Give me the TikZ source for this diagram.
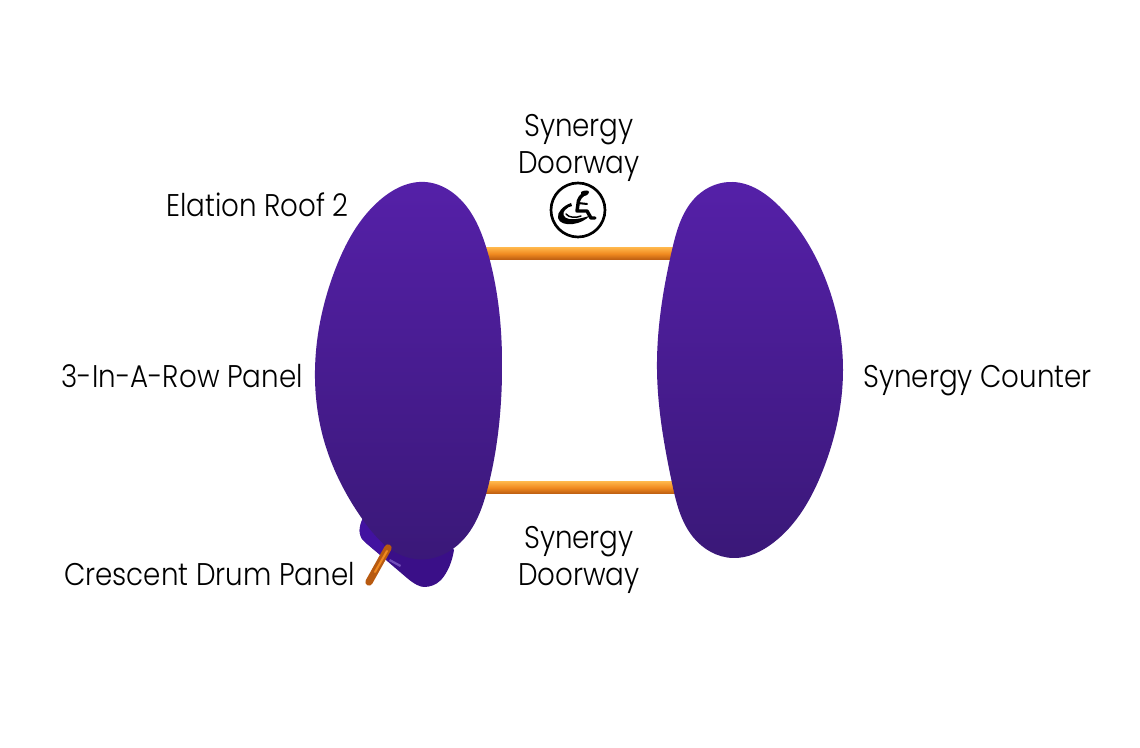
\documentclass[tikz,border=0pt]{standalone}
\usepackage{fontspec}
\usetikzlibrary{hobby}
\setmainfont[FakeStretch=0.885]{Poppins Light}
\definecolor{pTop}{HTML}{5520A8}
\definecolor{pBot}{HTML}{3A1878}
\definecolor{drumA}{HTML}{3A0F88}
\definecolor{drumB}{HTML}{4212A0}
\definecolor{oDark}{HTML}{B85A10}
\definecolor{oMid}{HTML}{F08A20}
\definecolor{oLight}{HTML}{FFB64A}
\tikzset{
  x=0.75pt,y=-0.75pt,
  lab/.style={font=\fontsize{23.5}{28}\selectfont,text=black,inner sep=0pt,align=center},
  blob/.style={top color=pTop,bottom color=pBot,draw=none},
  bar/.style={top color=oLight,bottom color=oDark,middle color=oMid,draw=none},
  icon/.style={draw=black,line cap=round,line join=round,fill=none}
}
\begin{document}
\begin{tikzpicture}
\useasboundingbox (0,0) rectangle (1140,748);
\fill[white] (0,0) rectangle (1140,748);
% drum under the left panel
\fill[drumA] (363,518) .. controls (360,524) and (359,530) .. (360,534)
 .. controls (361,538) and (363,541) .. (366,543)
 -- (407,578) .. controls (414,584) and (420,587) .. (424,587)
 .. controls (430,587) and (436,585) .. (441,580)
 .. controls (448,572) and (452,562) .. (454,550) -- (430,520) -- cycle;
\fill[drumB] (363,518) .. controls (360,524) and (359,530) .. (360,534)
 .. controls (361,538) and (363,541) .. (366,543) -- (388,561) -- (384,545) -- cycle;
\fill[drumB!75!white] (390,559) -- (401,565) -- (400,567) -- (389,561) -- cycle;
% bars
\shade[bar] (480,247.5) rectangle (680,260);
\shade[bar] (480,481.5) rectangle (680,494);
% panels
\shade[blob,use Hobby shortcut,closed=true]
 (425,182) .. (467,207) .. (487,250) .. (502,375) .. (488,487) .. (460,543) .. (415,559)
 .. (363,520) .. (323,437) .. (315,370) .. (335,270) .. (380,200);
\shade[blob,use Hobby shortcut,closed=true]
 (733,182) .. (780,207) .. (823,273) .. (843,370) .. (823,470) .. (773,543) .. (733,558)
 .. (693,537) .. (672,483) .. (657,370) .. (672,250) .. (698,195);
% rod
\draw[line width=5.5pt,line cap=round,oDark] (388,548) -- (369,582);
\draw[line width=1.5pt,line cap=round,oMid] (387,551) -- (375,572);
% labels
\node[lab,anchor=base east] (roof) at (349,217) {Elation Roof 2};
\node[lab,anchor=base east] (row) at (303,388) {3-In-A-Row Panel};
\node[lab,anchor=base east] (drum) at (355,586) {Crescent Drum Panel};
\node[lab,anchor=base west] (counter) at (863,388) {Synergy Counter};
\node[lab] (door1) at (579,148) {Synergy\\Doorway};
\node[lab] (door2) at (579,560) {Synergy\\Doorway};
% wheelchair sign
\node[circle,draw=black,line width=2pt,minimum size=40.5pt,inner sep=0pt,fill=white] (sign) at (578,210) {};
% head and torso
\draw[icon,line width=2.6pt] (584,194) .. controls (581,196) and (578,199) .. (578,204) -- (577,211) -- (587,211) -- (591,218) -- (595,218);
\fill[black] (581,192) .. controls (584,190) and (589,190) .. (589,192) .. controls (589,195) and (584,197) .. (581,196) -- cycle;
% arm rest
\draw[icon,line width=1.5pt] (578,203) -- (587,204);
% wheel crescent
\fill[black] (571,203) .. controls (563,206) and (557,212) .. (558,218)
 .. controls (559,223) and (566,225) .. (573,224) .. controls (580,223) and (586,220) .. (589,216)
 .. controls (583,218) and (575,220) .. (569,219) .. controls (563,218) and (562,213) .. (565,210) .. controls (567,208) and (570,206) .. (572,206) -- cycle;
\draw[icon,line width=1.1pt] (566,214) .. controls (569,218) and (576,218) .. (581,216);
\end{tikzpicture}
\end{document}
